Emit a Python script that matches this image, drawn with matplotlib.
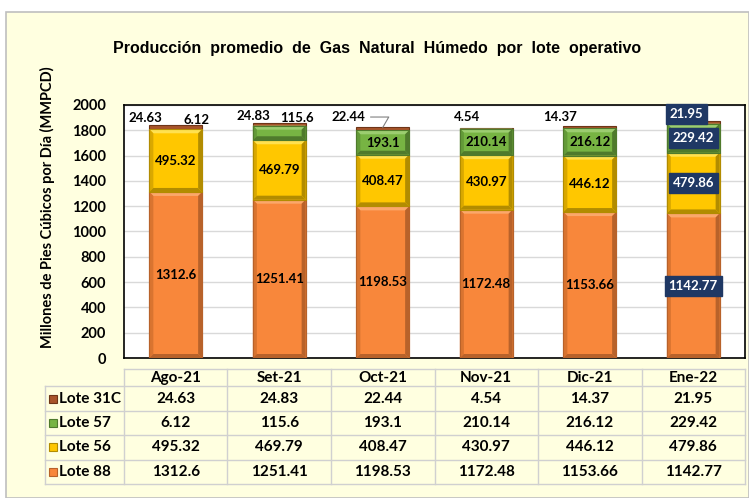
import matplotlib
matplotlib.use("Agg")
import matplotlib.pyplot as plt
from matplotlib.patches import Rectangle, Polygon
import numpy as np

months = ["Ago-21", "Set-21", "Oct-21", "Nov-21", "Dic-21", "Ene-22"]
lote88 = [1312.6, 1251.41, 1198.53, 1172.48, 1153.66, 1142.77]
lote56 = [495.32, 469.79, 408.47, 430.97, 446.12, 479.86]
lote57 = [6.12, 115.6, 193.1, 210.14, 216.12, 229.42]
lote31c = [24.63, 24.83, 22.44, 4.54, 14.37, 21.95]
series_names = ["Lote 88", "Lote 56", "Lote 57", "Lote 31C"]
yticks = [0, 200, 400, 600, 800, 1000, 1200, 1400, 1600, 1800, 2000]

colors = {"Lote 88": "#F8873B", "Lote 56": "#FFC700", "Lote 57": "#77B443", "Lote 31C": "#A9542B"}
lights = {"Lote 88": "#FBA86A", "Lote 56": "#FFE150", "Lote 57": "#9CCD70", "Lote 31C": "#C4764A"}
darks = {"Lote 88": "#B8622A", "Lote 56": "#B28C00", "Lote 57": "#4F7A2C", "Lote 31C": "#6E3518"}
mids = {"Lote 88": "#D97430", "Lote 56": "#D9A800", "Lote 57": "#639A38", "Lote 31C": "#8A4424"}
navy = "#1F3864"
panel_bg = "#FFFFE0"
FONT = ["Lato", "DejaVu Sans"]

W, H = 749, 498
fig = plt.figure(figsize=(W / 100, H / 100), dpi=100)
fig.patch.set_facecolor("white")

panel = Rectangle((6 / W, 0), (W - 6) / W, (H - 12) / H, transform=fig.transFigure,
                  facecolor=panel_bg, edgecolor="#BFBFBF", linewidth=1.2, zorder=-10)
fig.patches.append(panel)

def fx(px):
    return px / W

def fy(py):
    return 1 - py / H

L, R, T, B = 124, 745, 105, 358
ax = fig.add_axes([fx(L), fy(B), (R - L) / W, (B - T) / H])
ax.set_zorder(2)
ax.set_facecolor("white")
x = np.arange(len(months))
ax.set_xlim(-0.5, len(months) - 0.5)
ax.set_ylim(0, 2000)
ax.set_yticks(yticks)
ax.set_yticklabels([str(v) for v in yticks], fontsize=10.5, fontweight="bold", family=FONT)
ax.set_xticks([])
ax.tick_params(axis="y", length=0, pad=13)
ax.grid(axis="y", color="#D9D9D9", linewidth=1)
ax.set_axisbelow(True)
for s in ax.spines.values():
    s.set_color("black")
    s.set_linewidth(1.2)

fig.text(fx(47), fy(207), "Millones de Pies Cúbicos por Día (MMPCD)", rotation=90,
         ha="center", va="center", fontsize=10.5, fontweight="bold", family=FONT)

data = {"Lote 88": lote88, "Lote 56": lote56, "Lote 57": lote57, "Lote 31C": lote31c}
bw = 0.51
px_x = 1 / ((R - L) / len(months))   # data units per pixel (x)
px_y = 2000 / (B - T)                # data units per pixel (y)
bottom = np.zeros(len(months))
for name in series_names:
    vals = np.array(data[name])
    bars = ax.bar(x, vals, bw, bottom=bottom, color=colors[name], edgecolor=darks[name],
                  linewidth=0.8, zorder=3)
    for p in bars:
        x0, y0 = p.get_x(), p.get_y()
        x1, y1 = x0 + p.get_width(), y0 + p.get_height()
        h_px = p.get_height() / px_y
        if h_px < 8:
            continue
        d = 4
        dx, dy = d * px_x, d * px_y
        polys = [
            ([(x0, y1), (x1, y1), (x1 - dx, y1 - dy), (x0 + dx, y1 - dy)], lights[name]),
            ([(x0, y0), (x0, y1), (x0 + dx, y1 - dy), (x0 + dx, y0 + dy)], mids[name]),
            ([(x1, y0), (x1, y1), (x1 - dx, y1 - dy), (x1 - dx, y0 + dy)], darks[name]),
            ([(x0, y0), (x1, y0), (x1 - dx, y0 + dy), (x0 + dx, y0 + dy)], darks[name]),
        ]
        for pts, c in polys:
            ax.add_patch(Polygon(pts, closed=True, facecolor=c, edgecolor="none", zorder=4))
        ax.add_patch(Rectangle((x0, y0), x1 - x0, y1 - y0, facecolor="none",
                               edgecolor=darks[name], linewidth=0.8, zorder=4))
    bottom += vals
tops = bottom.copy()

lab_kw = dict(fontsize=9.5, fontweight="bold", family=FONT, ha="center", va="center", zorder=6)
navy_box = dict(boxstyle="square,pad=0.3", facecolor=navy, edgecolor=navy)

b = np.zeros(len(months))
for name in ["Lote 88", "Lote 56", "Lote 57"]:
    vals = np.array(data[name])
    for i in range(len(months)):
        if name == "Lote 57" and i < 2:
            continue
        yc = b[i] + vals[i] / 2
        if i == len(months) - 1:
            ax.text(x[i], yc, f"{vals[i]:g}", color="white", bbox=navy_box, **lab_kw)
        else:
            ax.text(x[i], yc, f"{vals[i]:g}", color="black", **lab_kw)
    b += vals

l31_off = [(-22, 5), (-19, 4.5), (-25, 7.5), (-14, 8), (-21, 7), (-5, 5)]
for i in range(len(months)):
    dx, dy = l31_off[i]
    kw = dict(lab_kw)
    if i == len(months) - 1:
        ax.annotate(f"{lote31c[i]:g}", xy=(x[i], tops[i]), xytext=(dx, dy), textcoords="offset points",
                    color="white", bbox=navy_box, annotation_clip=False, **kw)
    elif i == 2:
        ax.annotate(f"{lote31c[i]:g}", xy=(x[i], tops[i]), xytext=(dx, dy), textcoords="offset points",
                    color="black", annotation_clip=False,
                    arrowprops=dict(arrowstyle="-", color="#808080", lw=0.8,
                                    connectionstyle="angle,angleA=0,angleB=60,rad=0", shrinkA=2, shrinkB=0),
                    **kw)
    else:
        ax.annotate(f"{lote31c[i]:g}", xy=(x[i], tops[i]), xytext=(dx, dy), textcoords="offset points",
                    color="black", annotation_clip=False, **kw)

l57_off = {0: (15, 4), 1: (13, 3)}
for i, (dx, dy) in l57_off.items():
    ax.annotate(f"{lote57[i]:g}", xy=(x[i], tops[i]), xytext=(dx, dy), textcoords="offset points",
                color="black", annotation_clip=False, **lab_kw)

fig.text(fx(377), fy(48), "Producción  promedio  de  Gas  Natural  Húmedo  por  lote  operativo",
         ha="center", va="center", fontsize=11.5, fontweight="bold",
         family=["Liberation Sans", "DejaVu Sans"])

TL, TT, TB = 45, 369, 484
unit = (R - L) / len(months)
lab_w = (L - TL) / unit
tax = fig.add_axes([fx(TL), fy(TB), (R - TL) / W, (TB - TT) / H])
tax.set_zorder(2)
tax.set_xlim(-0.5 - lab_w, len(months) - 0.5)
hdr = 17 / 24
nrows = 4
tax.set_ylim(hdr + nrows, 0)
tax.axis("off")
gc = "#D0D0D0"
xl = -0.5 - lab_w
xr = len(months) - 0.5
tax.plot([-0.5, xr], [0, 0], color=gc, lw=1, clip_on=False)
for k in range(nrows + 1):
    tax.plot([xl, xr], [hdr + k, hdr + k], color=gc, lw=1, clip_on=False)
tax.plot([xl, xl], [hdr, hdr + nrows], color=gc, lw=1, clip_on=False)
for j in range(len(months) + 1):
    tax.plot([j - 0.5, j - 0.5], [0, hdr + nrows], color=gc, lw=1, clip_on=False)
tkw = dict(fontsize=11, fontweight="bold", family=FONT, va="center")
for j, m in enumerate(months):
    tax.text(j, hdr / 2 + 0.02, m, ha="center", **tkw)
row_order = ["Lote 31C", "Lote 57", "Lote 56", "Lote 88"]
for k, name in enumerate(row_order):
    yc = hdr + k + 0.5
    tax.plot([xl + 8 / unit], [yc], marker="s", markersize=5.5, color=colors[name],
             markeredgecolor=darks[name], markeredgewidth=0.8, clip_on=False)
    tax.text(xl + 14 / unit, yc, name, ha="left", **tkw)
    for j in range(len(months)):
        tax.text(j, yc, f"{data[name][j]:g}", ha="center", **tkw)

fig.savefig("out.png", dpi=100)
